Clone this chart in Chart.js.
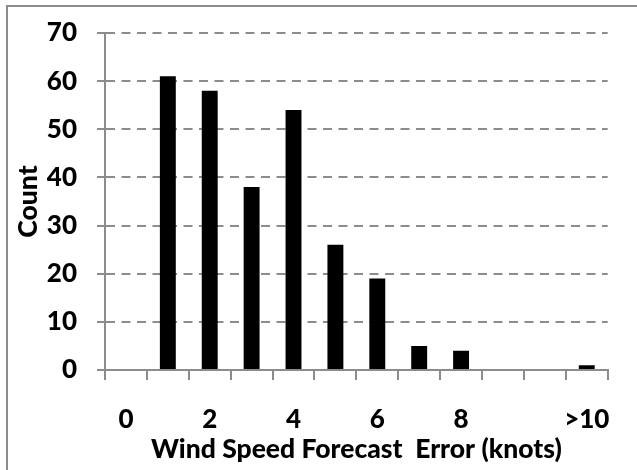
<!DOCTYPE html>
<html>
<head>
<meta charset="utf-8">
<script src="https://cdn.jsdelivr.net/npm/chart.js@4/dist/chart.umd.min.js"></script>
<style>
  html, body { margin: 0; padding: 0; background: #fff; }
  #c { display: block; }
</style>
</head>
<body>
<canvas id="c" width="637" height="470"></canvas>
<script>
// Data
const categories = ['0','1','2','3','4','5','6','7','8','9','10','>10'];
const counts     = [0, 61, 58, 38, 54, 26, 19, 5, 4, 0, 0, 1];
const shownXLabels = ['0','2','4','6','8','>10'];
const yTicks = [0,10,20,30,40,50,60,70];
const xTitle = 'Wind Speed Forecast  Error (knots)';
const yTitle = 'Count';

const FONT = 'Lato, "Open Sans", "DejaVu Sans", sans-serif';

const framePlugin = {
  id: 'frame',
  beforeDraw(chart) {
    const ctx = chart.ctx;
    ctx.save();
    ctx.fillStyle = '#fff';
    ctx.fillRect(0, 0, chart.width, chart.height);
    ctx.strokeStyle = '#8c8c8c';
    ctx.lineWidth = 2;
    ctx.beginPath();
    ctx.moveTo(7, chart.height + 5);
    ctx.lineTo(7, 6);
    ctx.lineTo(chart.width + 5, 6);
    ctx.stroke();
    ctx.restore();
  }
};

new Chart(document.getElementById('c'), {
  type: 'bar',
  data: {
    labels: categories,
    datasets: [{
      data: counts,
      backgroundColor: '#000',
      borderWidth: 0,
      barPercentage: 0.38,
      categoryPercentage: 1.0
    }]
  },
  options: {
    responsive: false,
    animation: false,
    devicePixelRatio: 1,
    layout: { padding: { top: 28, right: 15, left: 0, bottom: 0 } },
    plugins: { legend: { display: false }, tooltip: { enabled: false } },
    scales: {
      x: {
        offset: true,
        afterFit(scale) { scale.height = 100; },
        grid: {
          offset: true,
          drawOnChartArea: false,
          drawTicks: true,
          tickLength: 10,
          color: '#8c8c8c',
          lineWidth: 2
        },
        border: { display: true, color: '#8c8c8c', width: 2 },
        ticks: {
          autoSkip: false,
          maxRotation: 0,
          padding: 27,
          color: '#000',
          font: { family: FONT, size: 26, weight: 900, lineHeight: 1 },
          callback(value, index) {
            const lab = categories[index];
            return shownXLabels.includes(lab) ? lab : '';
          }
        },
        title: {
          display: true,
          text: xTitle,
          color: '#000',
          font: { family: FONT, size: 26.5, weight: 900, lineHeight: 1 },
          padding: { top: 0, bottom: 7 }
        }
      },
      y: {
        min: yTicks[0],
        max: yTicks[yTicks.length - 1],
        afterFit(scale) { scale.width = 105; },
        afterBuildTicks(scale) { scale.ticks = yTicks.map(v => ({ value: v })); },
        grid: {
          drawTicks: true,
          tickLength: 8,
          color: '#8c8c8c',
          lineWidth: 2,
          tickColor: '#8c8c8c',
          tickWidth: 2
        },
        border: { display: true, color: '#8c8c8c', width: 2, dash: [9, 6.5] },
        ticks: {
          padding: 20,
          color: '#000',
          font: { family: FONT, size: 26, weight: 900, lineHeight: 1 }
        },
        title: {
          display: true,
          text: yTitle,
          color: '#000',
          font: { family: FONT, size: 26.5, weight: 900, lineHeight: 1 },
          padding: { top: 15, bottom: 0 }
        }
      }
    }
  },
  plugins: [framePlugin]
});
</script>
</body>
</html>
